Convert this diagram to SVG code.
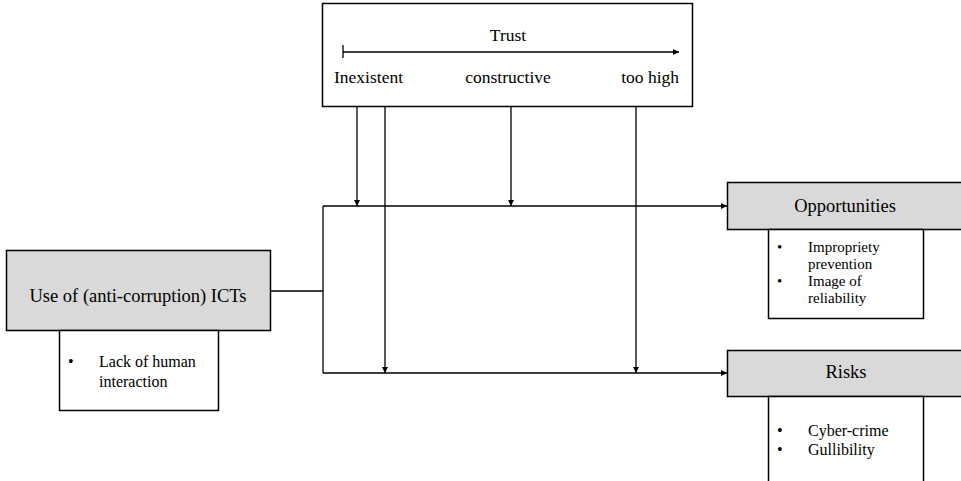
<svg xmlns="http://www.w3.org/2000/svg" width="961" height="481" viewBox="0 0 961 481">
<style>
.box{fill:#fff;stroke:#000;stroke-width:1.5}
.grey{fill:#d9d9d9;stroke:#000;stroke-width:1.5}
.ln{fill:none;stroke:#000;stroke-width:1.3}
text{font-family:"Liberation Serif","Times New Roman",serif;fill:#000}
.big{font-size:18.5px}
.mid{font-size:17.5px}
.sm{font-size:16px}
.xs{font-size:15px}
</style>
<defs>
<marker id="ah" viewBox="0 0 8 8" refX="8" refY="4" markerWidth="6" markerHeight="6" markerUnits="userSpaceOnUse" orient="auto">
<path d="M0,0 L8,4 L0,8 z" fill="#000"/>
</marker>
</defs>
<rect width="961" height="481" fill="#fff"/>
<g id="trust">
<rect class="box" x="322.5" y="3.5" width="370" height="103"/>
<text class="mid" x="508" y="41" text-anchor="middle">Trust</text>
<line class="ln" x1="343" y1="52" x2="679" y2="52" marker-end="url(#ah)"/>
<line class="ln" x1="343" y1="45" x2="343" y2="58"/>
<text class="mid" x="334" y="83">Inexistent</text>
<text class="mid" x="508" y="83" text-anchor="middle">constructive</text>
<text class="mid" x="679" y="83" text-anchor="end">too high</text>
</g>
<g id="ict">
<rect class="grey" x="6.5" y="250.5" width="264" height="80"/>
<text class="big" x="138" y="302" text-anchor="middle">Use of (anti-corruption) ICTs</text>
<rect class="box" x="59.5" y="330.5" width="159" height="80"/>
<text class="sm" x="68" y="367">•</text>
<text class="sm" x="99" y="367">Lack of human</text>
<text class="sm" x="99" y="387">interaction</text>
</g>
<g id="opportunities">
<rect class="grey" x="727.5" y="182.5" width="240" height="47"/>
<text class="big" x="845" y="212" text-anchor="middle">Opportunities</text>
<rect class="box" x="768.5" y="229.5" width="155" height="89"/>
<text class="xs" x="777" y="252">•</text>
<text class="xs" x="808" y="252">Impropriety</text>
<text class="xs" x="808" y="269">prevention</text>
<text class="xs" x="777" y="286">•</text>
<text class="xs" x="808" y="286">Image of</text>
<text class="xs" x="808" y="303">reliability</text>
</g>
<g id="risks">
<rect class="grey" x="727.5" y="350.5" width="240" height="46"/>
<text class="big" x="846" y="378" text-anchor="middle">Risks</text>
<rect class="box" x="768.5" y="396.5" width="155" height="100"/>
<text class="sm" x="777" y="436">•</text>
<text class="sm" x="808" y="436">Cyber-crime</text>
<text class="sm" x="777" y="455">•</text>
<text class="sm" x="808" y="455">Gullibility</text>
</g>
<g id="connectors">
<line class="ln" x1="270" y1="291" x2="323" y2="291"/>
<line class="ln" x1="323" y1="206" x2="323" y2="373"/>
<line class="ln" x1="323" y1="206" x2="727" y2="206" marker-end="url(#ah)"/>
<line class="ln" x1="323" y1="373" x2="727" y2="373" marker-end="url(#ah)"/>
<line class="ln" x1="357" y1="107" x2="357" y2="206" marker-end="url(#ah)"/>
<line class="ln" x1="511" y1="107" x2="511" y2="206" marker-end="url(#ah)"/>
<line class="ln" x1="385" y1="107" x2="385" y2="373" marker-end="url(#ah)"/>
<line class="ln" x1="636" y1="107" x2="636" y2="373" marker-end="url(#ah)"/>
</g>
</svg>
